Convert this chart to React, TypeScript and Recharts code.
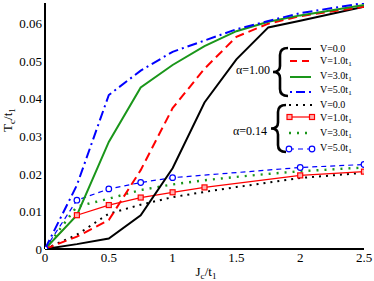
import { CartesianGrid, Line, LineChart, XAxis, YAxis } from "recharts";

const FONT = '"Liberation Serif", "Times New Roman", serif';

// J_c / t_1 values sampled by the curves
const jValues = [0, 0.25, 0.5, 0.75, 1, 1.25, 1.5, 1.75, 2, 2.5];

// alpha = 1.00
const a100V0 = [0, 0.0013, 0.0028, 0.009, 0.0215, 0.039, 0.0505, 0.059, 0.0608, 0.0645];
const a100V1 = [0, 0.0033, 0.0077, 0.021, 0.0375, 0.048, 0.0565, 0.06, 0.062, 0.0645];
const a100V3 = [0, 0.009, 0.0285, 0.043, 0.049, 0.054, 0.058, 0.0605, 0.0622, 0.065];
const a100V5 = [0, 0.017, 0.041, 0.0475, 0.0525, 0.0555, 0.0585, 0.0607, 0.0628, 0.0655];

// alpha = 0.14
const a014V0 = [0, 0.0038, 0.0094, 0.0118, 0.0138, 0.0152, 0.0165, 0.0177, 0.0189, 0.0203];
const a014V1 = [0, 0.009, 0.0117, 0.0137, 0.0151, 0.0164, null, null, 0.0196, 0.0206];
const a014V3 = [0, 0.0113, 0.0134, 0.0157, 0.0172, 0.0183, 0.0192, 0.02, 0.0207, 0.0217];
const a014V5 = [0, 0.013, 0.016, 0.0177, 0.019, null, null, null, 0.0217, 0.0225];

const xMajor = [0, 0.5, 1, 1.5, 2, 2.5];
const xMinor = [0.25, 0.75, 1.25, 1.75, 2.25];
const yMajor = [0, 0.01, 0.02, 0.03, 0.04, 0.05, 0.06];
const yMinor = [0.005, 0.015, 0.025, 0.035, 0.045, 0.055, 0.065];

const data = jValues.map((j, i) => ({
  J: j,
  a100V0: a100V0[i],
  a100V1: a100V1[i],
  a100V3: a100V3[i],
  a100V5: a100V5[i],
  a014V0: a014V0[i],
  a014V1: a014V1[i],
  a014V3: a014V3[i],
  a014V5: a014V5[i]
}));

const RED = "#ff0000";
const GREEN = "#1a961a";
const BLUE = "#0000ff";

const X_DOMAIN: [number, number] = [0, 2.5];
const Y_DOMAIN: [number, number] = [0, 0.0655];

const squareDot = (p: any) => {
  if (p.cx == null || p.cy == null || p.value == null) return <g key={`sq-${p.index}`} />;
  return (
    <rect
      key={`sq-${p.index}`}
      x={p.cx - 2.5}
      y={p.cy - 2.5}
      width={5}
      height={5}
      fill="#ffb0b0"
      stroke={RED}
      strokeWidth={1.2}
    />
  );
};

const circleDot = (p: any) => {
  if (p.cx == null || p.cy == null || p.value == null) return <g key={`ci-${p.index}`} />;
  return (
    <circle key={`ci-${p.index}`} cx={p.cx} cy={p.cy} r={2.8} fill="#fff" stroke={BLUE} strokeWidth={1.2} />
  );
};

const Sub = ({ base, sub }: { base: string; sub: string }) => (
  <>
    {base}
    <tspan fontSize="0.7em" dy={2.5}>
      {sub}
    </tspan>
  </>
);

const Brace = ({ x, top, bottom }: { x: number; top: number; bottom: number }) => {
  const mid = (top + bottom) / 2;
  const path = `M ${x + 8} ${top} Q ${x} ${top} ${x} ${top + 7} L ${x} ${mid - 6} Q ${x} ${mid} ${x - 7} ${mid} Q ${x} ${mid} ${x} ${mid + 6} L ${x} ${bottom - 7} Q ${x} ${bottom} ${x + 8} ${bottom}`;
  return <path d={path} fill="none" stroke="#000" strokeWidth={2.6} />;
};

const LegendText = ({ y, v, sub }: { y: number; v: string; sub?: boolean }) => (
  <text x={320} y={y + 3.5} fontSize={10} fontFamily={FONT} fill="#000">
    {sub ? <Sub base={v} sub="1" /> : v}
  </text>
);

const Overlay = () => (
  <svg width={374} height={281} style={{ position: "absolute", left: 0, top: 0, pointerEvents: "none" }}>
    {/* axis titles */}
    <text
      x={11.5}
      y={120}
      transform="rotate(-90 11.5 120)"
      textAnchor="middle"
      fontSize={13}
      fontFamily={FONT}
      fill="#000"
    >
      T<tspan fontSize="0.7em" dy={3}>c</tspan>
      <tspan dy={-3}>/t</tspan>
      <tspan fontSize="0.7em" dy={3}>1</tspan>
    </text>
    <text x={206} y={276} textAnchor="middle" fontSize={13} fontFamily={FONT} fill="#000">
      J<tspan fontSize="0.7em" dy={3}>c</tspan>
      <tspan dy={-3}>/t</tspan>
      <tspan fontSize="0.7em" dy={3}>1</tspan>
    </text>

    {/* alpha = 1.00 group */}
    <Brace x={280} top={48} bottom={96} />
    <text x={270} y={74} textAnchor="end" fontSize={12} fontFamily={FONT} fill="#000">
      α=1.00
    </text>
    <line x1={290} x2={311} y1={49} y2={49} stroke="#000" strokeWidth={2} />
    <line x1={290} x2={311} y1={61} y2={61} stroke={RED} strokeWidth={2} strokeDasharray="7 5" />
    <line x1={290} x2={311} y1={77} y2={77} stroke={GREEN} strokeWidth={2} />
    <line x1={290} x2={311} y1={92} y2={92} stroke={BLUE} strokeWidth={2} strokeDasharray="2 4 9 4" />
    <LegendText y={48} v="V=0.0" />
    <LegendText y={60} v="V=1.0t" sub />
    <LegendText y={75} v="V=3.0t" sub />
    <LegendText y={89} v="V=5.0t" sub />

    {/* alpha = 0.14 group */}
    <Brace x={278} top={105} bottom={152} />
    <text x={267} y={135} textAnchor="end" fontSize={12} fontFamily={FONT} fill="#000">
      α=0.14
    </text>
    <line x1={289} x2={312} y1={105} y2={105} stroke="#000" strokeWidth={2} strokeDasharray="2 5" />
    <line x1={289} x2={312} y1={117} y2={117} stroke={RED} strokeWidth={1.2} />
    <rect x={287} y={114.5} width={5} height={5} fill="#ffb0b0" stroke={RED} strokeWidth={1.2} />
    <rect x={309.5} y={114.5} width={5} height={5} fill="#ffb0b0" stroke={RED} strokeWidth={1.2} />
    <line x1={289} x2={312} y1={133} y2={133} stroke={GREEN} strokeWidth={2.4} strokeDasharray="2 6" />
    <line x1={289} x2={312} y1={149} y2={149} stroke={BLUE} strokeWidth={1.2} strokeDasharray="5 4" />
    <circle cx={289} cy={149} r={2.8} fill="#fff" stroke={BLUE} strokeWidth={1.2} />
    <circle cx={312} cy={149} r={2.8} fill="#fff" stroke={BLUE} strokeWidth={1.2} />
    <LegendText y={104.5} v="V=0.0" />
    <LegendText y={117} v="V=1.0t" sub />
    <LegendText y={132} v="V=3.0t" sub />
    <LegendText y={147} v="V=5.0t" sub />
  </svg>
);

const tickLineStyle = { stroke: "#000", strokeWidth: 1.5 };
const frameLine = { stroke: "#000", strokeWidth: 2 };

export default function App() {
  return (
    <div style={{ position: "absolute", left: 0, top: 0, width: 374, height: 281, background: "#fff" }}>
      <LineChart width={374} height={281} data={data} margin={{ top: 3, right: 10, bottom: 0, left: 0 }}>
        <CartesianGrid stroke="none" xAxisId="x" yAxisId="y" />
        {/* bottom axis with labels */}
        <XAxis
          xAxisId="x"
          dataKey="J"
          type="number"
          domain={X_DOMAIN}
          allowDataOverflow
          ticks={xMajor}
          interval={0}
          height={32}
          tickLine={false}
          tickSize={0}
          tickMargin={4}
          axisLine={frameLine}
          tick={{ fill: "#000", fontSize: 13, fontFamily: FONT }}
          tickFormatter={(v: number) => String(v)}
        />
        <XAxis xAxisId="xbMaj" type="number" domain={X_DOMAIN} allowDataOverflow ticks={xMajor} interval={0}
          orientation="bottom" mirror height={0} tick={false} tickSize={6} axisLine={false} tickLine={tickLineStyle} />
        <XAxis xAxisId="xbMin" type="number" domain={X_DOMAIN} allowDataOverflow ticks={xMinor} interval={0}
          orientation="bottom" mirror height={0} tick={false} tickSize={3} axisLine={false} tickLine={tickLineStyle} />
        <XAxis xAxisId="xtMaj" type="number" domain={X_DOMAIN} allowDataOverflow ticks={xMajor} interval={0}
          orientation="top" mirror height={0} tick={false} tickSize={6} axisLine={frameLine} tickLine={tickLineStyle} />
        <XAxis xAxisId="xtMin" type="number" domain={X_DOMAIN} allowDataOverflow ticks={xMinor} interval={0}
          orientation="top" mirror height={0} tick={false} tickSize={3} axisLine={false} tickLine={tickLineStyle} />

        {/* left axis with labels */}
        <YAxis
          yAxisId="y"
          type="number"
          domain={Y_DOMAIN}
          allowDataOverflow
          ticks={yMajor}
          interval={0}
          width={45}
          tickLine={false}
          tickSize={0}
          tickMargin={3}
          axisLine={frameLine}
          tick={{ fill: "#000", fontSize: 13, fontFamily: FONT }}
          tickFormatter={(v: number) => (v === 0 ? "0" : v.toFixed(2))}
        />
        <YAxis yAxisId="ylMaj" type="number" domain={Y_DOMAIN} allowDataOverflow ticks={yMajor} interval={0}
          orientation="left" mirror width={0} tick={false} tickSize={6} axisLine={false} tickLine={tickLineStyle} />
        <YAxis yAxisId="ylMin" type="number" domain={Y_DOMAIN} allowDataOverflow ticks={yMinor} interval={0}
          orientation="left" mirror width={0} tick={false} tickSize={3} axisLine={false} tickLine={tickLineStyle} />
        <YAxis yAxisId="yrMaj" type="number" domain={Y_DOMAIN} allowDataOverflow ticks={yMajor} interval={0}
          orientation="right" mirror width={0} tick={false} tickSize={6} axisLine={frameLine} tickLine={tickLineStyle} />
        <YAxis yAxisId="yrMin" type="number" domain={Y_DOMAIN} allowDataOverflow ticks={yMinor} interval={0}
          orientation="right" mirror width={0} tick={false} tickSize={3} axisLine={false} tickLine={tickLineStyle} />

        {/* alpha = 0.14 */}
        <Line xAxisId="x" yAxisId="y" type="linear" dataKey="a014V0" stroke="#000" strokeWidth={2}
          strokeDasharray="2 5" dot={false} isAnimationActive={false} />
        <Line xAxisId="x" yAxisId="y" type="linear" dataKey="a014V3" stroke={GREEN} strokeWidth={2.4}
          strokeDasharray="2 6" dot={false} isAnimationActive={false} />
        <Line xAxisId="x" yAxisId="y" type="linear" dataKey="a014V1" stroke={RED} strokeWidth={1.2}
          connectNulls dot={squareDot} isAnimationActive={false} />
        <Line xAxisId="x" yAxisId="y" type="linear" dataKey="a014V5" stroke={BLUE} strokeWidth={1.2}
          strokeDasharray="5 4" connectNulls dot={circleDot} isAnimationActive={false} />

        {/* alpha = 1.00 */}
        <Line xAxisId="x" yAxisId="y" type="linear" dataKey="a100V0" stroke="#000" strokeWidth={2}
          dot={false} isAnimationActive={false} />
        <Line xAxisId="x" yAxisId="y" type="linear" dataKey="a100V1" stroke={RED} strokeWidth={2}
          strokeDasharray="9 5" dot={false} isAnimationActive={false} />
        <Line xAxisId="x" yAxisId="y" type="linear" dataKey="a100V3" stroke={GREEN} strokeWidth={2}
          dot={false} isAnimationActive={false} />
        <Line xAxisId="x" yAxisId="y" type="linear" dataKey="a100V5" stroke={BLUE} strokeWidth={2}
          strokeDasharray="10 4 2 4" dot={false} isAnimationActive={false} />
      </LineChart>
      <Overlay />
    </div>
  );
}
